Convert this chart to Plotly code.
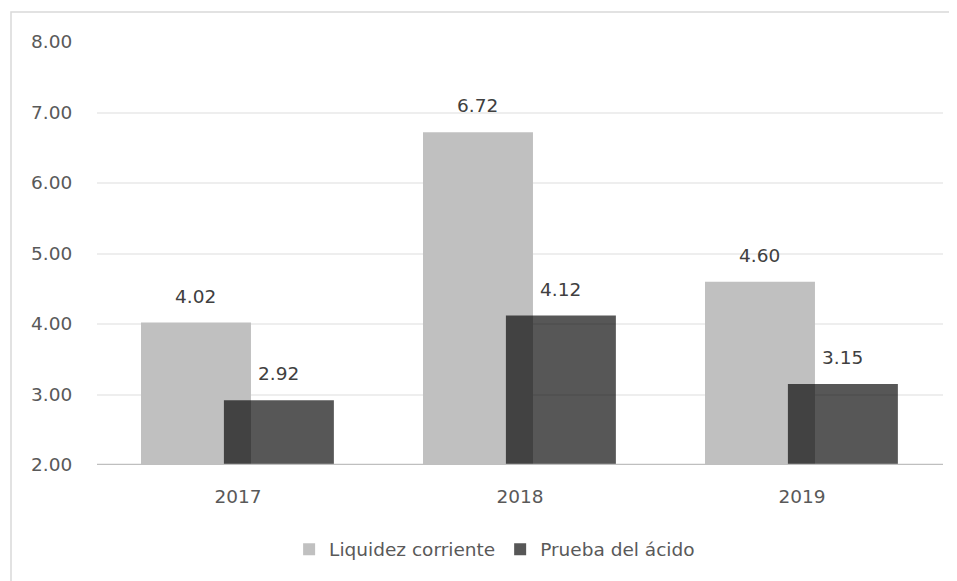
import plotly.graph_objects as go

years = ["2017", "2018", "2019"]
liquidez = [4.02, 6.72, 4.60]
acido = [2.92, 4.12, 3.15]
series_names = ["Liquidez corriente", "Prueba del ácido"]
y_ticks = [2, 3, 4, 5, 6, 7, 8]

FONT = "DejaVu Sans, sans-serif"
FS = 18.5
xpos = list(range(len(years)))

fig = go.Figure()
fig.add_trace(go.Bar(
    x=xpos, y=liquidez, name=series_names[0],
    marker=dict(color="#c0c0c0", line=dict(width=0)),
    width=0.39, offset=-0.344,
))
fig.add_trace(go.Bar(
    x=xpos, y=acido, name=series_names[1],
    marker=dict(color="rgba(0,0,0,0.66)", line=dict(width=0)),
    width=0.39, offset=-0.05,
))

for xi, v in zip(xpos, liquidez):
    fig.add_annotation(x=xi - 0.344 + 0.195, y=v, text=f"{v:.2f}", showarrow=False,
                       yshift=14, yanchor="bottom",
                       font=dict(size=FS, color="#404040", family=FONT))
for xi, v in zip(xpos, acido):
    fig.add_annotation(x=xi - 0.05 + 0.195, y=v, text=f"{v:.2f}", showarrow=False,
                       yshift=14, yanchor="bottom",
                       font=dict(size=FS, color="#404040", family=FONT))

# outer chart border (screen px -> paper coords; plot area 97..943 x 42..465)
fig.add_shape(type="rect", xref="paper", yref="paper",
              x0=(11 - 97) / 846, x1=(975 - 97) / 846,
              y0=(465 - 600) / 423, y1=1 + (42 - 12) / 423,
              line=dict(color="#d9d9d9", width=1.5), fillcolor="rgba(0,0,0,0)",
              layer="below")

fig.update_layout(
    width=957, height=581,
    margin=dict(l=89, r=22, t=34, b=124, autoexpand=False),
    barmode="overlay",
    plot_bgcolor="white", paper_bgcolor="white",
    font=dict(family=FONT, size=FS, color="#595959"),
    showlegend=True,
    legend=dict(orientation="h", x=0.47, xanchor="center", y=-0.2, yanchor="middle",
                font=dict(size=FS, color="#595959"),
                traceorder="normal"),
    xaxis=dict(range=[-0.5, len(years) - 0.5], tickvals=xpos, ticktext=years,
               showgrid=False, showline=False, zeroline=False,
               ticks="outside", ticklen=15, tickcolor="rgba(0,0,0,0)",
               automargin=False, tickfont=dict(size=FS, color="#595959")),
    yaxis=dict(range=[2, 8], tickvals=y_ticks, ticktext=[f"{t:.2f}" for t in y_ticks],
               showgrid=True, gridcolor="#eeeeee", gridwidth=1.5, zeroline=False,
               showline=False, ticks="outside", ticklen=20, tickcolor="rgba(0,0,0,0)",
               automargin=False,
               tickfont=dict(size=FS, color="#595959")),
)
fig.add_shape(type="line", xref="paper", yref="y", x0=0, x1=1, y0=2, y1=2,
              line=dict(color="#bfbfbf", width=2.5))

fig.write_html("out.html")
